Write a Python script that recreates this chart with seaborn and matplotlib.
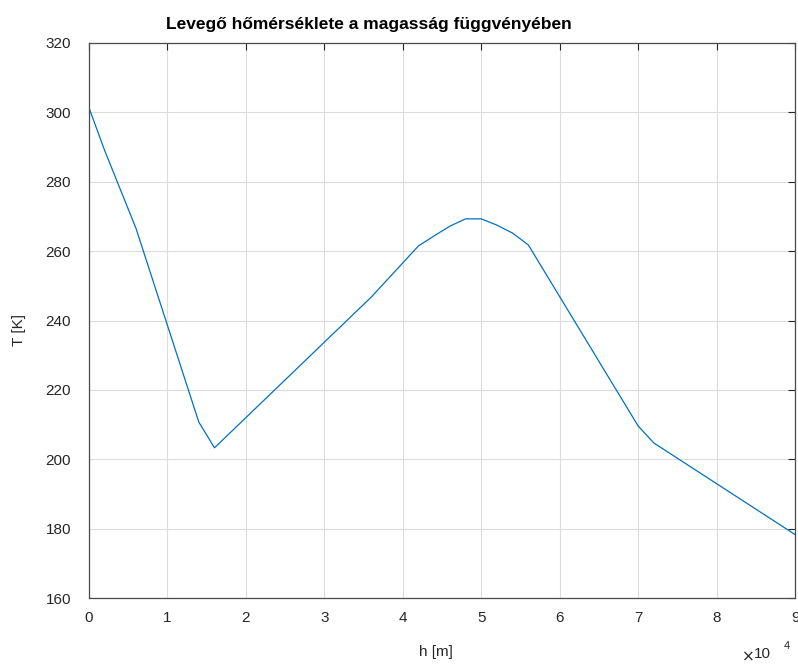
import matplotlib
matplotlib.use("Agg")
import matplotlib.pyplot as plt
import seaborn as sns
import pandas as pd

# Altitude (m) and air temperature (K)
h_m = [0, 2000, 6000, 14000, 16000, 36000, 42000, 44000, 46000, 48000,
       50000, 52000, 54000, 56000, 70000, 72000, 90000]
T_K = [301.3, 289.0, 266.5, 210.7, 203.3, 246.8, 261.5, 264.4, 267.2, 269.3,
       269.3, 267.5, 265.2, 261.8, 209.6, 204.7, 178.3]

x_ticks = [0, 10000, 20000, 30000, 40000, 50000, 60000, 70000, 80000, 90000]
x_tick_labels = ["0", "1", "2", "3", "4", "5", "6", "7", "8", "9"]
y_ticks = [160, 180, 200, 220, 240, 260, 280, 300, 320]

title_text = "Levegő hőmérséklete a magasság függvényében"
x_label = "h [m]"
y_label = "T [K]"

sns.set_style("white")
plt.rcParams["font.family"] = ["Liberation Sans", "DejaVu Sans"]

df = pd.DataFrame({"h": h_m, "T": T_K})

fig = plt.figure(figsize=(7.98, 6.66), dpi=100)
ax = fig.add_axes([89 / 798, 1 - 598 / 666, (795 - 89) / 798, (598 - 43) / 666])

sns.lineplot(data=df, x="h", y="T", ax=ax, color="#0072BD", linewidth=0.9,
             sort=False, estimator=None)

ax.set_xlim(0, 90000)
ax.set_ylim(160, 320)
ax.set_xticks(x_ticks)
ax.set_xticklabels(x_tick_labels)
ax.set_yticks(y_ticks)

ax.grid(True, color="#dcdcdc", linewidth=0.8)
ax.set_axisbelow(True)

for s in ax.spines.values():
    s.set_visible(True)
    s.set_color("#4a4a4a")
    s.set_linewidth(0.9)

ax.tick_params(axis="both", which="major", direction="in", length=5,
               width=0.8, color="#262626", labelsize=11, labelcolor="#262626",
               top=True, right=True)
ax.tick_params(axis="x", pad=9)
ax.tick_params(axis="y", pad=13)

ax.set_xlabel(x_label, fontsize=11, color="#262626")
ax.set_ylabel(y_label, fontsize=11, color="#262626")
ax.xaxis.set_label_coords((436 - 89) / 706, (598 - 645) / 555)
ax.yaxis.set_label_coords((26 - 89) / 706, (598 - 330) / 555)

# exponent marker for the x axis
ax.text((754 - 89) / 706, (598 - 660) / 555, r"$\times$", transform=ax.transAxes,
        ha="right", va="baseline", fontsize=11, color="#262626")
ax.text((771 - 89) / 706, (598 - 658) / 555, "10", transform=ax.transAxes,
        ha="right", va="baseline", fontsize=11, color="#262626")
ax.text((784 - 89) / 706, (598 - 649) / 555, "4", transform=ax.transAxes,
        ha="left", va="baseline", fontsize=8, color="#262626")

fig.text(369 / 798, 1 - 24 / 666, title_text, ha="center", va="center",
         fontsize=12.5, fontweight="bold", color="black")

fig.savefig("out.png", dpi=100)
